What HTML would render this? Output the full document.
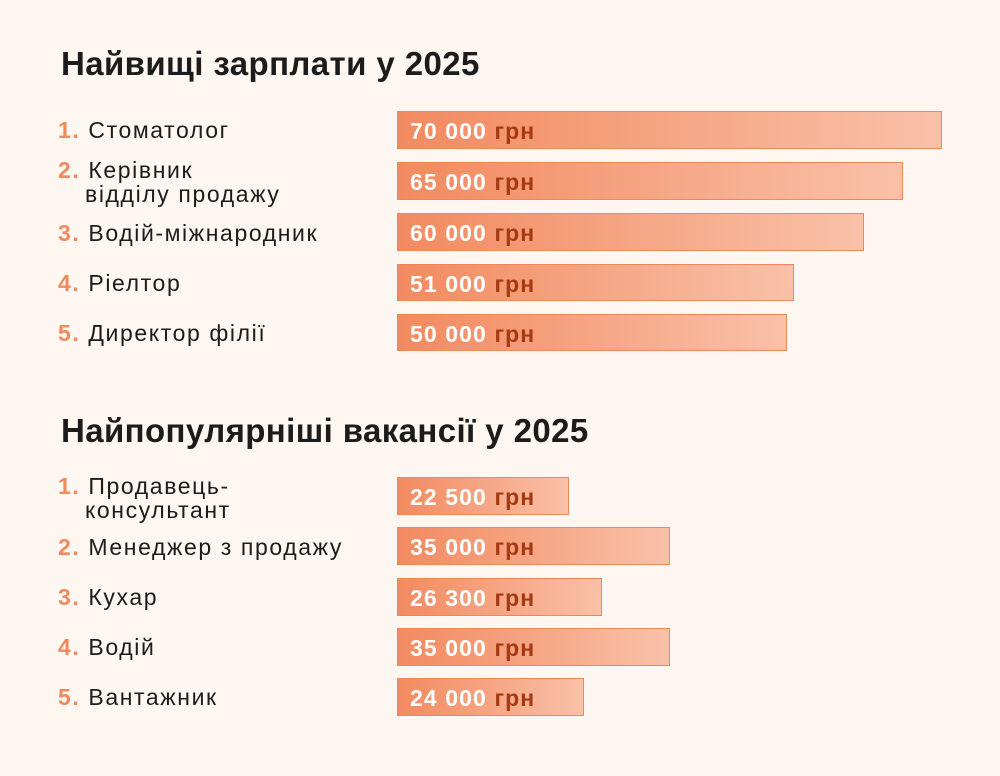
<!DOCTYPE html>
<html><head><meta charset="utf-8"><style>
body{margin:0;width:1000px;height:776px;background:#fdf6f1;font-family:"Liberation Sans",sans-serif;position:relative;overflow:hidden}
.t{position:absolute;left:61px;font-size:33px;font-weight:bold;color:#1c1c1c;white-space:nowrap;letter-spacing:0.4px}
.l{position:absolute;left:58px;font-size:23px;color:#1c1c1c;line-height:24px;white-space:nowrap;letter-spacing:1.6px}
.l b{color:#ef8a5e}
.l .i{padding-left:27px}
.b{position:absolute;left:397px;height:36px;border:1px solid #f0875a;background:linear-gradient(90deg,#f28a60,#f9c1a8);box-sizing:border-box;}
.b span{position:absolute;left:12px;top:6px;font-size:23px;font-weight:bold;color:#fff;white-space:nowrap;letter-spacing:1.1px}
.b span i{font-style:normal;color:#a53a12}
</style></head><body>
<div class="t" style="top:45px">Найвищі зарплати у 2025</div>
<div class="l" style="top:118px"><b>1.</b> Стоматолог</div>
<div class="l" style="top:158px"><b>2.</b> Керівник<br><span class="i">відділу продажу</span></div>
<div class="l" style="top:221px"><b>3.</b> Водій-міжнародник</div>
<div class="l" style="top:271px"><b>4.</b> Ріелтор</div>
<div class="l" style="top:321px"><b>5.</b> Директор філії</div>
<div class="b" style="top:111px;width:545px;height:38px"><span>70 000 <i>грн</i></span></div>
<div class="b" style="top:162px;width:506px;height:38px"><span>65 000 <i>грн</i></span></div>
<div class="b" style="top:213px;width:467px;height:38px"><span>60 000 <i>грн</i></span></div>
<div class="b" style="top:264px;width:397px;height:37px"><span>51 000 <i>грн</i></span></div>
<div class="b" style="top:314px;width:390px;height:37px"><span>50 000 <i>грн</i></span></div>

<div class="t" style="top:412px">Найпопулярніші вакансії у 2025</div>
<div class="l" style="top:474px"><b>1.</b> Продавець-<br><span class="i">консультант</span></div>
<div class="l" style="top:535px"><b>2.</b> Менеджер з продажу</div>
<div class="l" style="top:585px"><b>3.</b> Кухар</div>
<div class="l" style="top:635px"><b>4.</b> Водій</div>
<div class="l" style="top:685px"><b>5.</b> Вантажник</div>
<div class="b" style="top:477px;width:172px;height:38px"><span>22 500 <i>грн</i></span></div>
<div class="b" style="top:527px;width:273px;height:38px"><span>35 000 <i>грн</i></span></div>
<div class="b" style="top:578px;width:205px;height:38px"><span>26 300 <i>грн</i></span></div>
<div class="b" style="top:628px;width:273px;height:38px"><span>35 000 <i>грн</i></span></div>
<div class="b" style="top:678px;width:187px;height:38px"><span>24 000 <i>грн</i></span></div>
</body></html>
